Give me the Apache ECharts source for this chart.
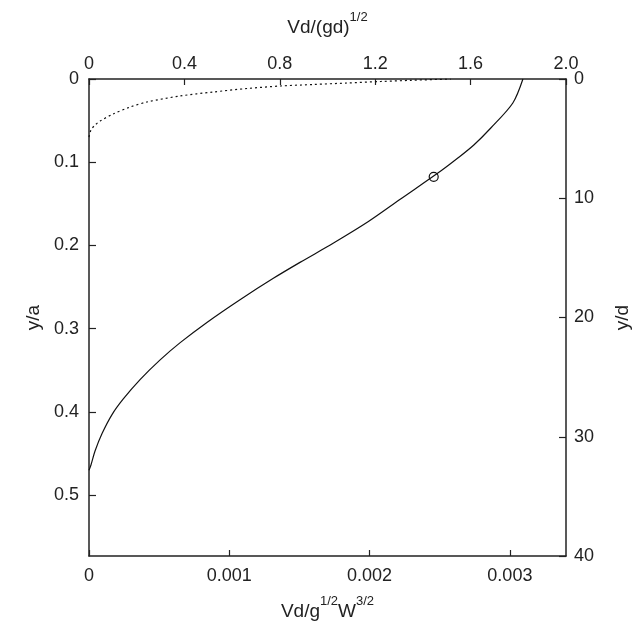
<!DOCTYPE html>
<html>
<head>
<meta charset="utf-8">
<script src="https://cdn.jsdelivr.net/npm/echarts@6/dist/echarts.min.js"></script>
<style>
html,body{margin:0;padding:0;background:#fff;}
#chart{width:644px;height:628px;}
</style>
</head>
<body>
<div id="chart"></div>
<script>
// Solid curve: [Vd/g^1/2 W^3/2, y/a]
const solidX = [0.003093,0.003021,0.002864,0.002743,0.002629,0.002507,0.002221,0.001986,0.001743,0.001507,0.001314,0.001079,0.000843,0.000650,0.000507,0.000364,0.000243,0.000164,0.000093,0.000043,0.000014,0];
const solidY = [0,0.0288,0.0589,0.0793,0.0950,0.1106,0.1442,0.1719,0.1971,0.2200,0.2394,0.2648,0.2921,0.3167,0.3374,0.3611,0.3846,0.4031,0.4259,0.4469,0.4637,0.470];
// Dotted curve
const dotX = [0,0.000014,0.000043,0.000079,0.000171,0.000293,0.000414,0.000650,0.000886,0.001129,0.001364,0.001600,0.001843,0.002079,0.002293,0.002579];
const dotY = [0.0697,0.0613,0.0553,0.0505,0.0421,0.0337,0.0276,0.0204,0.0156,0.0114,0.0084,0.0066,0.0048,0.0030,0.0016,0];
// Marked point
const markX = [0.002457];
const markY = [0.1175];
// Tick values
const bottomTicks = [0, 0.001, 0.002, 0.003];
const topTicks = [0, 0.4, 0.8, 1.2, 1.6, 2.0];
const leftTicks = [0, 0.1, 0.2, 0.3, 0.4, 0.5];
const rightTicks = [0, 10, 20, 30, 40];

const zip = (xs, ys) => xs.map((x, i) => [x, ys[i]]);
const FONT = 'Liberation Sans, Arial, Helvetica, sans-serif';
const TXT = '#222';
const axisLine = {onZero: false, lineStyle: {color: '#222', width: 1.5}};
const tick = len => ({inside: true, length: len, lineStyle: {color: '#222', width: 1.2}});
const lbl = {fontFamily: FONT, fontSize: 18, color: TXT};
const richName = {
  n: {fontFamily: FONT, fontSize: 19, color: TXT, lineHeight: 26, verticalAlign: 'bottom'},
  s: {fontFamily: FONT, fontSize: 13, color: TXT, lineHeight: 17, verticalAlign: 'top'}
};

const chart = echarts.init(document.getElementById('chart'), null, {renderer: 'canvas'});
chart.setOption({
  animation: false,
  backgroundColor: '#fff',
  grid: {left: 89, right: 78, top: 79, bottom: 72},
  xAxis: [
    {
      type: 'value', position: 'bottom', min: 0, max: 0.0034, interval: 0.001,
      axisLine, splitLine: {show: false}, axisTick: tick(6),
      axisLabel: Object.assign({}, lbl, {margin: 11, showMaxLabel: false,
        formatter: v => bottomTicks.includes(+v.toFixed(4)) ? (v === 0 ? '0' : v.toFixed(3)) : ''}),
      name: '{n|Vd/g}{s|1/2}{n|W}{s|3/2}', nameLocation: 'middle', nameGap: 39,
      nameTextStyle: {rich: richName}
    },
    {
      type: 'value', position: 'top', min: 0, max: 2.0, interval: 0.4,
      axisLine, splitLine: {show: false}, axisTick: tick(6),
      axisLabel: Object.assign({}, lbl, {margin: 6,
        formatter: v => topTicks.includes(+v.toFixed(1)) ? (v === 0 ? '0' : v.toFixed(1)) : ''}),
      name: '{n|Vd/(gd)}{s|1/2}', nameLocation: 'middle', nameGap: 42,
      nameTextStyle: {rich: richName}
    }
  ],
  yAxis: [
    {
      type: 'value', position: 'left', inverse: true, min: 0, max: 0.573, interval: 0.1,
      axisLine, splitLine: {show: false}, axisTick: tick(7),
      axisLabel: Object.assign({}, lbl, {margin: 10, showMaxLabel: false,
        formatter: v => leftTicks.includes(+v.toFixed(1)) && Math.abs(v - +v.toFixed(1)) < 1e-6 ? (v === 0 ? '0' : v.toFixed(1)) : ''}),
      name: 'y/a', nameLocation: 'middle', nameGap: 41, nameRotate: 90,
      nameTextStyle: {fontFamily: FONT, fontSize: 19, color: TXT}
    },
    {
      type: 'value', position: 'right', inverse: true, min: 0, max: 40, interval: 10,
      axisLine, splitLine: {show: false}, axisTick: tick(7),
      axisLabel: Object.assign({}, lbl, {margin: 8,
        formatter: v => rightTicks.includes(v) ? String(v) : ''}),
      name: 'y/d', nameLocation: 'middle', nameGap: 47, nameRotate: 90,
      nameTextStyle: {fontFamily: FONT, fontSize: 19, color: TXT}
    }
  ],
  series: [
    {
      type: 'line', xAxisIndex: 0, yAxisIndex: 0, data: zip(solidX, solidY),
      smooth: 0.3, showSymbol: false, silent: true, z: 2,
      lineStyle: {color: '#111', width: 1.2}
    },
    {
      type: 'line', xAxisIndex: 0, yAxisIndex: 0, data: zip(dotX, dotY),
      smooth: 0.3, showSymbol: false, silent: true, z: 2,
      lineStyle: {color: '#111', width: 1.2, type: [2, 3]}
    },
    {
      type: 'scatter', xAxisIndex: 0, yAxisIndex: 0, data: zip(markX, markY),
      symbol: 'circle', symbolSize: 9, silent: true, z: 5,
      itemStyle: {color: 'rgba(255,255,255,0)', borderColor: '#111', borderWidth: 1.2, opacity: 1}
    }
  ]
});
</script>
</body>
</html>
